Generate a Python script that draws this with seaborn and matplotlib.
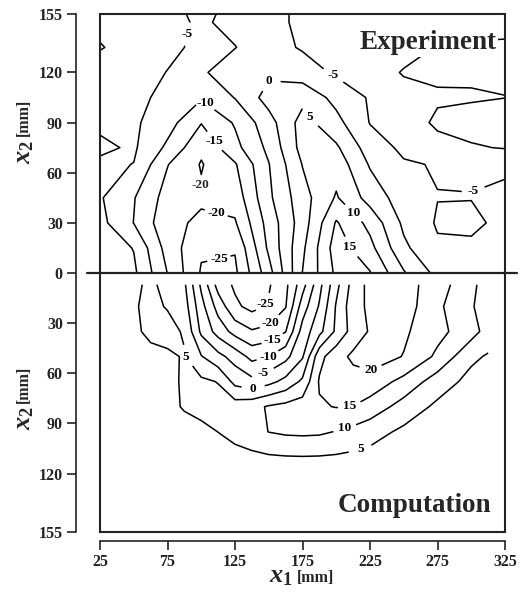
import numpy as np
import matplotlib
matplotlib.use("Agg")
import matplotlib.pyplot as plt
from matplotlib.patches import Rectangle
import seaborn as sns

# ---------------- data ----------------
levels = [-25, -20, -15, -10, -5, 0, 5, 10, 15, 20]

# Experiment (upper half): x1 [mm], x2 [mm]
exp_x = [25, 50, 75, 100, 125, 150, 175, 200, 225, 250, 275, 300, 325]
exp_y = [0, 15, 30, 45, 65, 75, 90, 105, 120, 135, 150, 155]
exp_u = [
    [-2, -4, -15.1, -25.5, -26, -12, 5.1, 16, 15.3, 5.5, -1.5, -3, -3],
    [-2, -5.2, -17, -24.3, -24.6, -9, 4, 17.5, 11.5, 1, -4.3, -4.3, -3],
    [-3.5, -10.1, -18.5, -21, -20.5, -8, 2.5, 15.5, 8.5, -1, -5.5, -5.8, -4],
    [-4.5, -9.7, -17, -19.2, -18, -6, 3, 10.5, 3, -2.5, -4.9, -4.9, -4.5],
    [-4, -5.1, -14.8, -20.35, -15.5, -5.2, 5.2, 8, -0.5, -4.5, -5.3, -5.5, -5.4],
    [-6, -4.3, -11, -19, -11.5, -3.8, 6.8, 5.8, -2.5, -6, -8, -9.5, -10.3],
    [-4, -4.2, -8, -14.8, -9.5, -2, 7, 1.5, -5.2, -7, -11, -12, -12.5],
    [-3.5, -4, -6, -9.5, -4.8, 2, 3.5, -1.5, -5.5, -8.5, -9.3, -9.5, -9.95],
    [-3.5, -3.5, -5.1, -5.5, -3, -1, -2.5, -5.8, -8, -10.3, -11, -10.8, -10.5],
    [-5.2, -3.8, -4.2, -5.8, -5.1, -3, -5.5, -7, -8, -8.5, -10.2, -10.5, -10.5],
    [-4.2, -3.5, -4, -5.5, -4, -3.5, -6, -7, -7.5, -7.5, -8, -8.5, -9],
    [-4, -3.5, -4, -5.8, -4, -3.5, -6, -7, -7.5, -7.5, -8, -8.5, -9],
]

# Computation (lower half): x1 [mm], depth x2 [mm]
comp_x = [50, 62.5, 75, 87.5, 100, 112.5, 125, 137.5, 150, 162.5, 175, 187.5,
          200, 212.5, 225, 250, 275, 300, 312.5]
comp_depth = [7, 20, 35, 50, 65, 80, 95, 110, 125, 155]
comp_u = [
    [4, 6, 3.3, 0.8, -11, -22, -25.8, -28, -25.5, -21.2, -12, -1.5, 8.5, 17, 21.5, 22, 17.5, 11, 8],
    [4.6, 6, 4.7, 2.2, -8.2, -17, -24, -26.5, -24.5, -20.3, -7.5, 0.5, 10.5, 18, 21, 22.5, 16, 10.5, 7.5],
    [4, 6.2, 6.5, 4.5, -6, -12, -16.8, -19.5, -18.5, -15.2, -3, 3.5, 11, 17, 20.5, 20.8, 16.5, 12, 8],
    [2.5, 3.5, 4.3, 5.3, 0.3, -3.5, -7, -11.5, -10, -6.5, -0.5, 13.5, 18, 21, 22.5, 19.8, 14, 6, 4.5],
    [2, 2.8, 3.8, 5.6, 6, 4.8, -1.5, -3.5, -1.5, 1.5, 6, 15.5, 17, 18, 18, 13.5, 7.5, 3.5, 3],
    [1.5, 2.2, 3.5, 5.5, 6.5, 7, 7.5, 8.5, 10.5, 11.5, 12.5, 14.5, 15.2, 14.9, 13, 8, 4, 2, 1.5],
    [1, 1.5, 2, 2.8, 3.8, 5.05, 6.5, 8, 10.1, 10.8, 11, 10.8, 9.8, 8.5, 7, 4, 2.5, 1.5, 1.2],
    [0.8, 1, 1.3, 1.8, 2.3, 2.9, 3.5, 4, 4.5, 4.8, 4.9, 4.8, 4.5, 4, 3.5, 2.5, 1.5, 1, 0.8],
    [0.5, 0.7, 1, 1.3, 1.7, 2, 2.4, 2.7, 3, 3.2, 3.3, 3.2, 3, 2.7, 2.4, 1.8, 1.2, 0.8, 0.6],
    [0.3, 0.4, 0.6, 0.8, 1, 1.2, 1.4, 1.6, 1.8, 1.9, 2, 1.9, 1.8, 1.6, 1.4, 1.1, 0.8, 0.5, 0.4],
]

x_ticks = [25, 75, 125, 175, 225, 275, 325]
y_ticks = [155, 120, 90, 60, 30, 0]

# label anchor points (level, x1, x2) ; x2 negative = computation half
exp_label_spots = [(-5, 100.6, 141), (0, 148.7, 117), (-5, 197, 117), (-10, 101, 100),
                   (5, 183, 95), (-15, 106.5, 77), (-20, 112.4, 40), (-25, 112.4, 11),
                   (10, 214, 37), (15, 212, 16), (-5, 300.6, 51)]
comp_label_spots = [(-25, 148.7, -19), (-20, 152.4, -31), (-15, 153, -40), (-10, 149.4, -50),
                    (-5, 145.8, -60), (0, 138.4, -69), (5, 86.5, -51), (20, 226, -59),
                    (15, 210, -80), (10, 206, -92), (5, 217.6, -105)]

# ---------------- style ----------------
sns.set_style("ticks")
plt.rcParams["font.family"] = ["Liberation Serif", "DejaVu Serif"]
plt.rcParams["font.weight"] = "bold"
plt.rcParams["mathtext.fontset"] = "custom"
plt.rcParams["mathtext.it"] = "Liberation Serif:italic:bold"
plt.rcParams["mathtext.rm"] = "Liberation Serif"
plt.rcParams["mathtext.bf"] = "Liberation Serif:bold"

W, H = 524, 592
fig = plt.figure(figsize=(W / 100, H / 100), dpi=100)
ax = fig.add_axes([100 / W, 1 - 532 / H, 405 / W, 518 / H])

cs_e = ax.contour(exp_x, exp_y, np.array(exp_u), levels=levels,
                  colors="black", linewidths=1.1, linestyles="solid")
cs_c = ax.contour(comp_x, -np.array(comp_depth), np.array(comp_u), levels=levels,
                  colors="black", linewidths=1.1, linestyles="solid")


def place_labels(cs, spots):
    # initialise the labeller (no automatic labels), then put each label
    # on the requested level close to the given anchor point
    cs.clabel(fmt="%d", fontsize=9.5, inline=True, inline_spacing=3, manual=[])
    all_levels = list(cs.levels)
    cs.labelLevelList = all_levels
    cs.labelCValueList = np.asarray(cs.cvalues)
    for lev, lx, ly in spots:
        cs.labelIndiceList = [all_levels.index(lev)]
        cs.add_label_near(lx, ly, True, 3)
    for t in cs.labelTexts:
        t.set_rotation(0)


place_labels(cs_e, exp_label_spots)
place_labels(cs_c, comp_label_spots)
# label of the tiny closed -20 contour (placed just below it)
ax.text(99, 52.5, "-20", ha="center", va="center", fontsize=9.5, fontweight="bold")

ax.set_xlim(25, 325)
ax.set_ylim(-155, 155)

ax.set_xticks(x_ticks)
ax.set_xticklabels([str(v) for v in x_ticks])
yt = y_ticks + [-v for v in y_ticks[::-1][1:]]
ax.set_yticks(yt)
ax.set_yticklabels([str(abs(v)) for v in yt])
ax.tick_params(direction="out", length=6.5, width=1.2, labelsize=11.5, pad=3,
               colors="#222222")

sns.despine(ax=ax, top=True, right=True, offset={"left": 17.3, "bottom": 6.5})
for s in ("left", "bottom"):
    ax.spines[s].set_linewidth(1.2)
    ax.spines[s].set_color("#222222")

# box frame round the plotting area
ax.add_patch(Rectangle((0, 0), 1, 1, transform=ax.transAxes, fill=False,
                       lw=1.5, edgecolor="#222222", clip_on=False, zorder=5))
# divider between the two halves
ax.plot([-0.032, 1.03], [0, 0], transform=ax.get_yaxis_transform(),
        color="#222222", lw=1.6, clip_on=False, zorder=5)

ax.text(0.978, 0.945, "Experiment", transform=ax.transAxes, ha="right", va="center",
        fontsize=19.5, fontweight="bold",
        bbox=dict(facecolor="white", edgecolor="none", pad=1.5))
ax.text(0.965, 0.052, "Computation", transform=ax.transAxes, ha="right", va="center",
        fontsize=19.5, fontweight="bold")


def fx(px):
    return px / W


def fy(py):
    return 1 - py / H


# axis titles
for cy_x, cy_mm in ((152, 117), (418, 384)):
    fig.text(fx(24), fy(cy_x), r"$x_{2}$", rotation=90, ha="center", va="center",
             fontsize=19)
    fig.text(fx(24), fy(cy_mm), "[mm]", rotation=90, ha="center", va="center",
             fontsize=11.5, fontweight="bold")
fig.text(fx(281), fy(576), r"$x_{1}$", ha="center", va="center", fontsize=19)
fig.text(fx(316), fy(578), "[mm]", ha="center", va="center", fontsize=11.5,
         fontweight="bold")

fig.savefig("out.png", dpi=100, facecolor="white")
